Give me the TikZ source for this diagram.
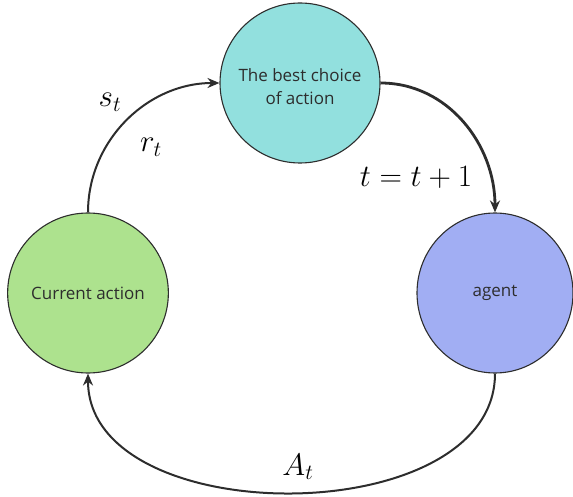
\documentclass[tikz,border=0pt]{standalone}
\usepackage{fontspec}
\setmainfont{Open Sans}
\usetikzlibrary{arrows.meta,shapes.geometric}
\definecolor{cyanfill}{RGB}{146,224,222}
\definecolor{greenfill}{RGB}{173,226,142}
\definecolor{bluefill}{RGB}{161,174,243}
\definecolor{edgegray}{RGB}{45,45,45}
\tikzset{
  state/.style={ellipse, draw=edgegray, line width=1.1pt, text=edgegray,
    font=\fontsize{17}{23}\selectfont, align=center, inner sep=0pt},
  flow/.style={draw=edgegray, line width=2pt, -{Stealth[length=12pt,width=10pt]}},
  lbl/.style={font=\fontsize{24}{24}\selectfont, inner sep=0pt, scale=1.25}
}
\begin{document}
\begin{tikzpicture}[x=1pt,y=-1pt]
\useasboundingbox (0,0) rectangle (573,497);
\node[state, fill=cyanfill, minimum width=160pt, minimum height=160pt] (T) at (300,83) {};
\node[text=edgegray, font=\fontsize{17}{23}\selectfont, align=center] (Tt) at (300,87) {The best choice\\of action};
\node[state, fill=greenfill, minimum width=160pt, minimum height=160pt] (L) at (88,293) {Current action};
\node[state, fill=bluefill, minimum width=156pt, minimum height=160pt] (R) at (495,293) {agent};
\draw[flow] (L.north) to[out=90,in=180] (T.west);
\draw[flow, line width=2.8pt] (T.east) to[out=0,in=90] (R.north);
\draw[flow] (R.south) to[out=-90,in=-90] (L.south);
\node[lbl] (s) at (110,102) {$s_t$};
\node[lbl] (r) at (151,147) {$r_t$};
\node[lbl] (tt) at (416,177) {$t=t+1$};
\node[lbl] (A) at (298,467) {$A_t$};
\end{tikzpicture}
\end{document}
